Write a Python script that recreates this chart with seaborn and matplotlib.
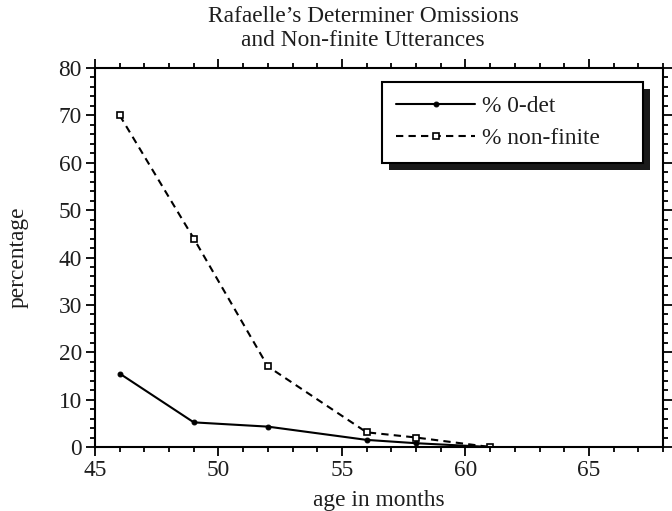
import matplotlib
matplotlib.use("Agg")
import matplotlib.pyplot as plt
from matplotlib.patches import Rectangle
from matplotlib.ticker import MultipleLocator
import pandas as pd
import seaborn as sns

# Observations by age (months)
age = [46, 49, 52, 56, 58, 61]
zero_det = [15.5, 5.2, 4.3, 1.5, 0.8, 0.0]
non_finite = [70, 44, 17, 3.1, 2.0, 0.0]

series_names = ["% 0-det", "% non-finite"]
title_lines = ["Rafaelle\u2019s Determiner Omissions", "and Non-finite Utterances"]
x_label = "age in months"
y_label = "percentage"

FS = 16.8
TXT = "#1e1e1e"

sns.set_style("ticks")
plt.rcParams["font.family"] = ["Liberation Serif", "DejaVu Serif"]
plt.rcParams["font.size"] = FS

df = pd.DataFrame({
    "age": age * 2,
    "value": zero_det + non_finite,
    "series": [series_names[0]] * len(age) + [series_names[1]] * len(age),
})

fig = plt.figure(figsize=(6.72, 5.11), dpi=100)
ax = fig.add_axes([95 / 672, 1 - 447 / 511, 568 / 672, 379 / 511])

sns.lineplot(data=df[df.series == series_names[0]], x="age", y="value", ax=ax,
             color="black", lw=1.5, marker="o", markersize=3.5,
             markerfacecolor="black", markeredgecolor="black",
             label=series_names[0])
sns.lineplot(data=df[df.series == series_names[1]], x="age", y="value", ax=ax,
             color="black", lw=1.5, linestyle=(0, (3.5, 2.5)), marker="s",
             markersize=4.5, markerfacecolor="white", markeredgecolor="black",
             markeredgewidth=1.2, label=series_names[1])

ax.set_xlim(45, 68)
ax.set_ylim(0, 80)
ax.xaxis.set_major_locator(MultipleLocator(5))
ax.xaxis.set_minor_locator(MultipleLocator(1))
ax.yaxis.set_major_locator(MultipleLocator(10))
ax.yaxis.set_minor_locator(MultipleLocator(2))
ax.tick_params(which="both", direction="out", top=True, right=True,
               labeltop=False, labelright=False, width=1.3, color="black",
               labelsize=FS, labelcolor=TXT)
ax.tick_params(which="major", length=6.5, pad=3)
ax.tick_params(which="minor", length=3.8)
for s in ax.spines.values():
    s.set_visible(True)
    s.set_linewidth(1.5)
    s.set_color("black")

ax.set_xlabel(x_label, fontsize=FS, color=TXT)
ax.set_ylabel(y_label, fontsize=FS, color=TXT)
ax.xaxis.label.set_va("center")
ax.yaxis.label.set_va("center")
ax.xaxis.set_label_coords(0.5, -(500 - 447) / 379)
ax.yaxis.set_label_coords((18 - 95) / 568, 0.5)

fig.text(363 / 672, 1 - 17 / 511, title_lines[0], ha="center", va="center",
         fontsize=FS, color=TXT)
fig.text(363 / 672, 1 - 41 / 511, title_lines[1], ha="center", va="center",
         fontsize=FS, color=TXT)

# Legend box spans a fixed width in axes coordinates
box_x0 = (382 - 95) / 568
box_w = (643 - 382) / 568
box_top = 1 - (82 - 68) / 379
leg = ax.legend(loc="upper left", bbox_to_anchor=(box_x0, box_top - 0.3, box_w, 0.3),
                mode="expand", fontsize=FS,
                frameon=True, fancybox=False, framealpha=1, edgecolor="black",
                handlelength=3.4, handletextpad=0.3, borderpad=0.6,
                labelspacing=0.44, borderaxespad=0)
leg.get_frame().set_linewidth(1.5)
leg.set_zorder(10)
for t in leg.get_texts():
    t.set_color(TXT)

# Solid drop shadow offset down and to the right of the legend frame
fig.canvas.draw()
bb = leg.get_window_extent().transformed(fig.transFigure.inverted())
off_x, off_y = 7 / 672, 7 / 511
shadow = Rectangle((bb.x0 + off_x, bb.y0 - off_y), bb.width, bb.height,
                   transform=fig.transFigure, facecolor="#1a1a1a",
                   edgecolor="none", zorder=9, clip_on=False)
ax.add_patch(shadow)

fig.savefig("out.png", dpi=100)
